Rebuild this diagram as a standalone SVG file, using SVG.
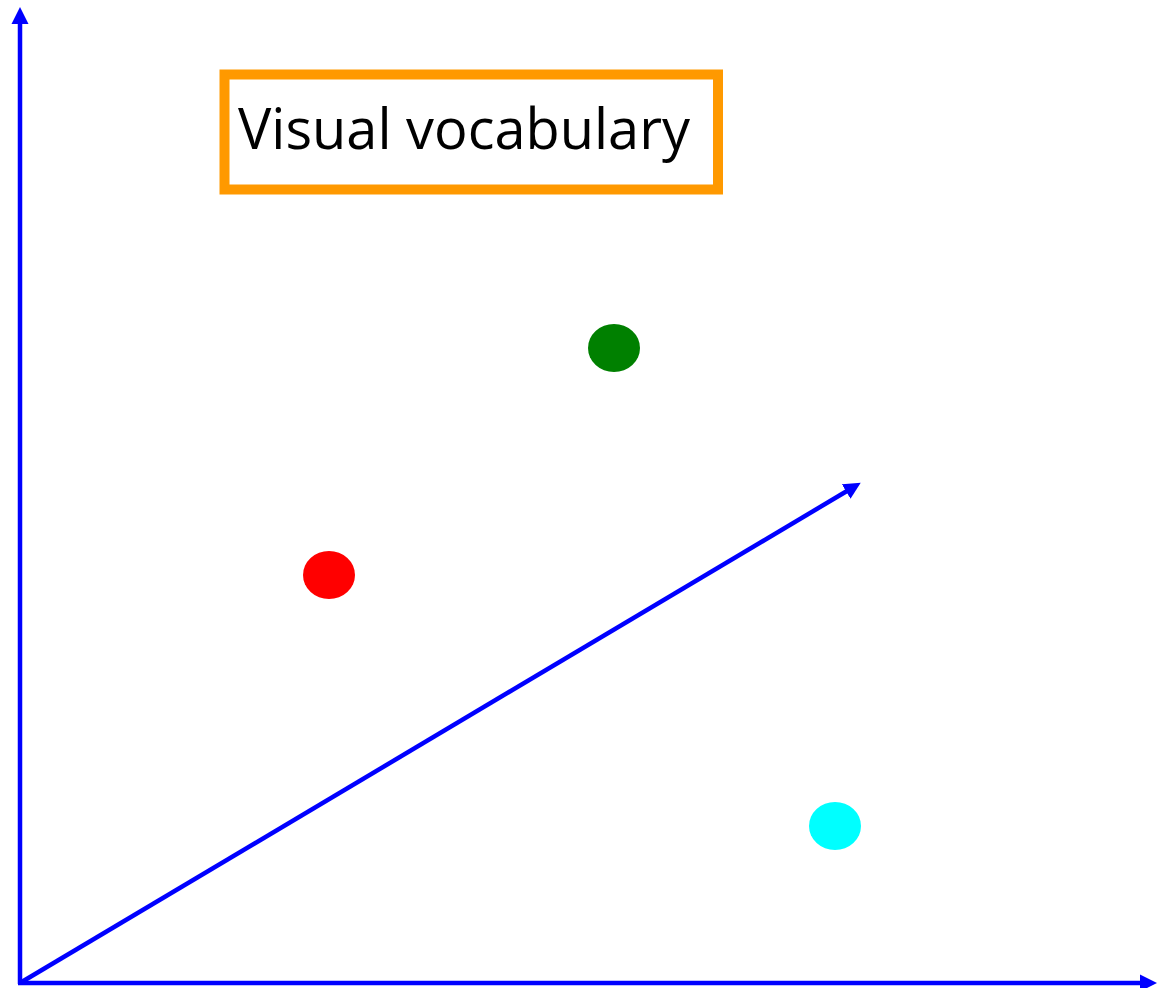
<svg xmlns="http://www.w3.org/2000/svg" width="1162" height="988" viewBox="0 0 1162 988">
<style>
.axis{stroke:#0000ff;stroke-width:4.5;fill:none}
.lbl{font-family:"Open Sans","Noto Sans","Liberation Sans",sans-serif;font-size:57px;fill:#000}
</style>
<defs>
<marker id="ah" markerUnits="userSpaceOnUse" markerWidth="18" markerHeight="18" refX="1" refY="9" orient="auto">
<path d="M0,0.5 L17,9 L0,17.5 Z" fill="#0000ff"/>
</marker>
</defs>
<rect width="1162" height="988" fill="#fff"/>
<g id="connectors">
<line class="axis" x1="20" y1="984" x2="20" y2="23" marker-end="url(#ah)"/>
<line class="axis" x1="18" y1="983" x2="1141" y2="983" marker-end="url(#ah)"/>
<line class="axis" x1="20" y1="983" x2="847" y2="491" marker-end="url(#ah)"/>
</g>
<g id="title">
<rect x="224.5" y="74.5" width="493.5" height="115" fill="#fff" stroke="#ff9900" stroke-width="10"/>
<text class="lbl" x="238" y="149" textLength="452" lengthAdjust="spacingAndGlyphs">Visual vocabulary</text>
</g>
<g id="green"><ellipse cx="614" cy="348" rx="26" ry="24" fill="#008000"/></g>
<g id="red"><ellipse cx="329" cy="575" rx="26" ry="24" fill="#ff0000"/></g>
<g id="cyan"><ellipse cx="835" cy="826" rx="26" ry="24" fill="#00ffff"/></g>
</svg>
